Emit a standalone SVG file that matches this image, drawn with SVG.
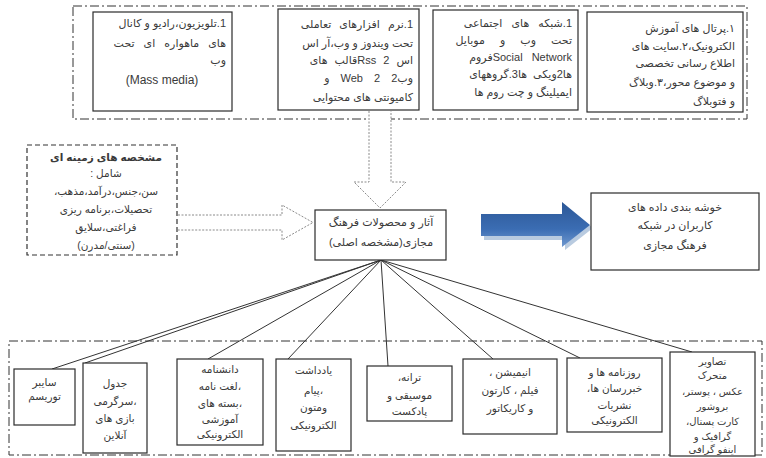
<svg xmlns="http://www.w3.org/2000/svg" width="766" height="458" viewBox="0 0 766 458">
<defs>
<style>
.box{fill:#fff;stroke:#2b2b2b;stroke-width:1.2}
.cont{fill:none;stroke:#333;stroke-width:1;stroke-dasharray:9 3 2 3}
.dash{fill:#fff;stroke:#333;stroke-width:1.2;stroke-dasharray:5 3}
.hollow{fill:#fff;stroke:#8a8a8a;stroke-width:1;stroke-dasharray:2 1.5}
.ln{stroke:#333;stroke-width:1;fill:none}
.t{font-family:"Liberation Sans","DejaVu Sans",sans-serif;font-size:11px;fill:#3a3a3a;direction:rtl}
.s{font-size:10.5px}
.xs{font-size:10px}
.c{text-anchor:middle}
.r{text-anchor:start}
.b{font-weight:bold}
</style>
<linearGradient id="blue" x1="0" y1="0" x2="0" y2="1">
<stop offset="0" stop-color="#2c5796"/>
<stop offset="0.6" stop-color="#3b6db3"/>
<stop offset="1" stop-color="#6f98cf"/>
</linearGradient>
</defs>
<rect width="766" height="458" fill="#fff"/>

<g id="containers">
<rect class="cont" x="73" y="6" width="674" height="113"/>
<rect class="cont" x="9" y="341" width="753" height="114"/>
</g>

<g id="connectors">
<path class="hollow" d="M369,111 V182 H354 L380,208 L406,182 H391 V111"/>
<path class="hollow" d="M178,215 H282 V205 L313,222.5 L282,240 V230 H178"/>
<polygon points="484,218 565,218 565,206 593,228 565,250 565,240 484,240" fill="#b9cbe0"/>
<polygon points="481,214 562,214 562,202 590,225 562,247 562,236 481,236" fill="url(#blue)"/>
<line class="ln" x1="381" y1="260" x2="52" y2="369"/>
<line class="ln" x1="381" y1="260" x2="85" y2="363"/>
<line class="ln" x1="381" y1="260" x2="208" y2="359"/>
<line class="ln" x1="381" y1="260" x2="288" y2="359"/>
<line class="ln" x1="381" y1="260" x2="388" y2="366"/>
<line class="ln" x1="381" y1="260" x2="493" y2="359"/>
<line class="ln" x1="381" y1="260" x2="580" y2="358"/>
<line class="ln" x1="381" y1="260" x2="692" y2="352"/>
</g>

<g id="top-mass-media">
<rect class="box" x="93" y="12" width="139" height="99"/>
<text class="t r" x="226" y="27">1.تلویزیون،رادیو و کانال</text>
<text class="t r" x="226" y="47" style="word-spacing:6px">های ماهواره ای تحت</text>
<text class="t r" x="226" y="64">وب</text>
<text class="t c" x="162" y="84" style="direction:ltr;font-size:12px">(Mass media)</text>
</g>

<g id="top-software">
<rect class="box" x="278" y="9" width="141" height="101"/>
<text class="t r" x="413" y="28" style="word-spacing:5px">1.نرم افزارهای تعاملی</text>
<text class="t r" x="413" y="47">تحت ویندوز و وب،آر اس</text>
<text class="t r" x="413" y="64" style="word-spacing:4px">اس Rss 2قالب های</text>
<text class="t r" x="413" y="82" style="word-spacing:8px">وب2 2 Web و</text>
<text class="t r" x="413" y="101">کامیونتی های محتوایی</text>
</g>

<g id="top-social">
<rect class="box" x="433" y="10" width="145" height="100"/>
<text class="t r" x="572" y="27" style="word-spacing:6px">1.شبکه های اجتماعی</text>
<text class="t r" x="572" y="44" style="word-spacing:12px">تحت وب و موبایل</text>
<text class="t r" x="572" y="61" style="word-spacing:6px">Social Networkفروم</text>
<text class="t r" x="572" y="78" style="word-spacing:3px">ها2ویکی ها3.گروههای</text>
<text class="t r" x="572" y="96">ایمیلینگ و چت روم ها</text>
</g>

<g id="top-portal">
<rect class="box" x="587" y="12" width="156" height="100"/>
<text class="t r" x="735" y="32">۱.پرتال های آموزش</text>
<text class="t r" x="735" y="50">الکترونیک،۲.سایت های</text>
<text class="t r" x="735" y="67">اطلاع رسانی تخصصی</text>
<text class="t r" x="735" y="86">و موضوع محور،۳.وبلاگ</text>
<text class="t r" x="735" y="105">و فتوبلاگ</text>
</g>

<g id="background-features">
<rect class="dash" x="27" y="145" width="150" height="110"/>
<text class="t c s b" x="106" y="161">مشخصه های زمینه ای</text>
<text class="t c s" x="106" y="177">شامل :</text>
<text class="t c s" x="106" y="195">سن،جنس،درآمد،مذهب،</text>
<text class="t c s" x="106" y="213">تحصیلات،برنامه ریزی</text>
<text class="t c s" x="106" y="231">فراغتی،سلایق</text>
<text class="t c s" x="106" y="249">(سنتی/مدرن)</text>
</g>

<g id="center">
<rect class="box" x="315" y="210" width="131" height="50"/>
<text class="t c" x="381" y="226">آثار و محصولات فرهنگ</text>
<text class="t c" x="381" y="246">مجازی(مشخصه اصلی)</text>
</g>

<g id="clustering">
<rect class="box" x="591" y="193" width="168" height="77"/>
<text class="t c" x="675" y="211">خوشه بندی داده های</text>
<text class="t c" x="675" y="229">کاربران در شبکه</text>
<text class="t c" x="675" y="249">فرهنگ مجازی</text>
</g>

<g id="b1">
<rect class="box" x="14" y="369" width="61" height="56"/>
<text class="t c s" x="44.5" y="386">سایبر</text>
<text class="t c s" x="44.5" y="400">توریسم</text>
</g>
<g id="b2">
<rect class="box" x="83" y="363" width="64" height="90"/>
<text class="t c s" x="115" y="387">جدول</text>
<text class="t c s" x="115" y="405">،سرگرمی</text>
<text class="t c s" x="115" y="422">بازی های</text>
<text class="t c s" x="115" y="439">آنلاین</text>
</g>
<g id="b3">
<rect class="box" x="177" y="359" width="86" height="86"/>
<text class="t c s" x="220" y="373">دانشنامه</text>
<text class="t c s" x="220" y="390">،لغت نامه</text>
<text class="t c s" x="220" y="407">،بسته های</text>
<text class="t c s" x="220" y="423">آموزشی</text>
<text class="t c s" x="220" y="438">الکترونیکی</text>
</g>
<g id="b4">
<rect class="box" x="276" y="359" width="75" height="92"/>
<text class="t c s" x="313.5" y="374">یادداشت</text>
<text class="t c s" x="313.5" y="394">،پیام</text>
<text class="t c s" x="313.5" y="411">ومتون</text>
<text class="t c s" x="313.5" y="429">الکترونیکی</text>
</g>
<g id="b5">
<rect class="box" x="367" y="366" width="85" height="55"/>
<text class="t c s" x="409.5" y="381">ترانه،</text>
<text class="t c s" x="409.5" y="399">موسیقی و</text>
<text class="t c s" x="409.5" y="415">پادکست</text>
</g>
<g id="b6">
<rect class="box" x="463" y="359" width="94" height="75"/>
<text class="t c s" x="510" y="376">انیمیشن ،</text>
<text class="t c s" x="510" y="394">فیلم ، کارتون</text>
<text class="t c s" x="510" y="412">و کاریکاتور</text>
</g>
<g id="b7">
<rect class="box" x="567" y="358" width="95" height="74"/>
<text class="t c s" x="614.5" y="376">روزنامه ها و</text>
<text class="t c s" x="614.5" y="392">خبررسان ها،</text>
<text class="t c s" x="614.5" y="409">نشریات</text>
<text class="t c s" x="614.5" y="424">الکترونیکی</text>
</g>
<g id="b8">
<rect class="box" x="670" y="352" width="85" height="104"/>
<text class="t c xs" x="712.5" y="365">تصاویر</text>
<text class="t c xs" x="712.5" y="379">متحرک</text>
<text class="t c xs" x="712.5" y="395">عکس ، پوستر،</text>
<text class="t c xs" x="712.5" y="410">بروشور</text>
<text class="t c xs" x="712.5" y="425">کارت پستال،</text>
<text class="t c xs" x="712.5" y="440">گرافیک و</text>
<text class="t c xs" x="712.5" y="453">اینفو گرافی</text>
</g>
</svg>
